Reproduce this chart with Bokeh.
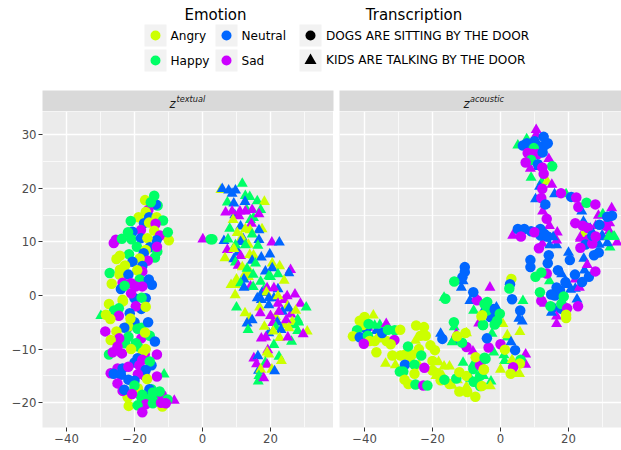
from bokeh.plotting import figure
from bokeh.layouts import column, row
from bokeh.models import FixedTicker, Range1d, ColumnDataSource
from bokeh.core.properties import value
from bokeh.embed import file_html
from bokeh.resources import INLINE

EMOTIONS = {"A": "#CCFF00", "H": "#00FF66", "N": "#0066FF", "S": "#CC00FF"}
emotion_labels = ["Angry", "Happy", "Neutral", "Sad"]
transcription_labels = ["DOGS ARE SITTING BY THE DOOR", "KIDS ARE TALKING BY THE DOOR"]
x_ticks = [-40, -20, 0, 20]
y_ticks = [-20, -10, 0, 10, 20, 30]

textual_dogs_x = [
 -20,-18,-16,-18,-15.5,-22,-20,-17,-15,-19,
 -17,-15,-20,-18,-22,-16,-14,-12,-18,-20,
 -13.2,-13.7,-15.9,-16.9,-15.2,-14.2,-16.7,-18.8,-15.7,-13.5,
 -11.6,-21.1,-17.2,-15.7,-13.8,-14.2,-12.5,-18.1,-20.6,-21.9,
 -9.9,-10.2,-13.5,-25.5,-26.1,-23.7,-20.9,-18.1,-16.2,-15.5,
 -13.3,-13.4,-19.3,-16.7,-17.3,-14,-16.1,-21.6,-24.3,-25.3,
 -18.5,-20.6,-17.7,-22.8,-24.3,-27.3,-17.7,-19.2,-24.4,-21.8,
 -18.5,-15.8,-14.9,-23.5,-17.7,-21,-19.6,-26.7,-24,-22.9,
 -21,-16.7,-17.9,-23.5,-19.6,-16.7,-23.4,-27.5,-24.6,-26,
 -21.4,-24.6,-28.4,-27.1,-21.2,-21.8,-19.1,-23,-28.6,-25.3,
 -16.9,-21.8,-22.8,-24.5,-27,-19.6,-14,-25,-27.5,-26.4,
 -23.7,-21,-16.7,-17.5,-13.4,-19.1,-17.7,-15.5,-18.6,-25,
 -23.5,-21.8,-16.7,-27,-26.1,-24,-19,-13.4,-21.8,-20,
 -16.3,-25,-19,-20,-15.6,-23.5,-23,-20.7,-17.7,-12.6,
 -14.6,-16.7,-14.6,-10.3,-11.8,-21.7,-12.2,-10.8,-19.1,-17.7,
 2.4,2.9]
textual_dogs_y = [
 -5,-6,-5,-8,-7.5,-6,-12.5,-11,-13,-9.5,
 -15,-17.5,-17.5,-19,-19,-19,-19,-18.5,-2.5,-0.5,
 16.8,17,16,17.8,17.4,18.6,15.6,14.6,14.6,14.6,
 14,13.9,13.5,13.6,13.4,12.1,11.2,12.2,11.9,11.8,
 10.3,11.8,10.3,10.4,9.8,10.6,10.5,10.7,10.7,9,
 8.2,9.1,9.1,8.5,7.9,7.1,6.5,7.7,7.4,6.8,
 6.9,6.3,5.5,5.6,4.8,4.2,4.5,4.7,3.9,3.9,
 3,3,2,2.4,1.7,2.3,1.7,2.2,1.2,1.8,
 0.4,-0.5,-0.4,-0.8,-2,-2.1,-1.1,-1.6,-2.4,-2.8,
 -3.3,-3.8,-3.6,-4.4,-4.3,-5.8,-6.2,-6,-6.7,-6.7,
 -6.9,-7.7,-8.9,-8,-8.3,-8.9,-8.6,-9.5,-11,-10.6,
 -10.8,-10,-10,-10.6,-11,-11.7,-12,-12.3,-13,-13.6,
 -13.6,-13.3,-13.9,-14.5,-14.6,-14.8,-14.7,-15.1,-15.7,-15.9,
 -15.6,-16.4,-17.3,-16.8,-17.5,-17.8,-17.6,-18.4,-18.5,-17.9,
 -18.1,-20.3,-20.1,-19.4,-20.7,-20.6,-20,-20.1,-20.5,-21.8,
 10.5,10.5]
textual_dogs_emotion = list(
 "NHNSHNNSNH" "SHHHAHHSNN"
 "HNSAHHAANA" "HHNASASSNH" "AHNSSHHNAN" "HSHANHSHAA"
 "ANNAAHSAAN" "HNNSSSSANH" "SNHASAAAHH" "NSAAAAHNSA"
 "AHHSAHNSHS" "SAAASNSHSS" "NSNSNNSSNN" "ASAHNSNSHH"
 "HSHHAASSHS" "HH")

textual_kids_x = [
 9.5,13,15,12,13.5,10.5,15,12.5,13.5,18,
 20,17.5,21,24,25,23.5,21.5,26,27,24,
 19.5,22,28,16.5,19.5,
 0.1,5.4,5.8,7.7,9.7,8.7,11.7,12.6,13.9,14.6,
 7.3,9.2,16.1,18.2,12.5,17.1,6.8,8.7,11,12.6,
 10.7,16.6,14.1,9,14.4,11.2,8,17.5,16.6,10.2,
 12.6,14,14.6,11.5,16.6,6.3,7.5,20.4,22.6,11.2,
 9.7,12.6,16.3,7.3,9.2,11.2,6.6,13.9,9.2,17.3,
 19.8,9.7,10.5,20.5,22.7,14.6,15.6,11.7,14,14.9,
 13.1,20.5,18.5,25.9,25.4,22.2,24,19.5,10,12.2,
 8.4,9.7,11.2,14.1,14.9,12.2,17.1,19,22.2,21,
 18.8,27.2,24.9,9.6,10,16.1,19.5,22.2,17.3,22.2,
 19.5,28.8,30.5,25.4,27.4,16.8,17,22.5,20,12.5,
 26.4,24.6,14,14.6,13.1,20.7,28.3,18.2,13.4,21.5,
 25.4,23.1,28,30.8,29.6,20.8,17.3,18.6,22.7,26.2,
 25.1,21,19.2,19,15.1,16.3,22.5,23.2,15.9,18.5,
 19,17.1,20.4,21.2,16.6,16.4,18,
 -29.9,-11.3,-8.3]
textual_kids_y = [
 15,16,14.5,10.5,9.5,8,7.5,4,3.5,1,
 3.5,0.5,-0.5,-0.8,-2,-3,-4,-3.5,-5.5,-5.5,
 -7,-5,-4.5,-14,-11,
 10.5,19.7,19.9,19.6,19.6,19,20.9,18.6,18.4,16,
 17.4,17.2,17.6,17.5,17.5,16,15.5,15.7,15.7,15.7,
 14.8,15.2,14.1,14.1,13.4,12.9,12.5,12.4,12.2,11.7,
 12.4,12.2,11.4,10.8,10.4,10.2,10.5,9.9,9.9,10,
 9.4,9.4,9.3,8.5,8.7,7.4,7,7.6,6.8,7.1,
 7.7,6.2,5.6,6,5.5,6.5,6,5.3,4.3,3.9,
 5,5.1,4.5,4.8,4.2,4,2.8,3.6,3,3,
 2,2,2.3,1.7,1.6,1.5,2.6,1.4,1.2,1.4,
 0.6,0.2,-0.1,0.1,-2.2,-0.5,-0.5,-0.1,-0.8,-1.5,
 -1.8,-1.5,-2.2,-2.4,-2.8,-2.2,-3.3,-3,-3.8,-3.3,
 -4.9,-4.6,-4.2,-4.6,-5.2,-5.1,-5,-5.8,-6.4,-5.9,
 -6.1,-6.4,-6.6,-6.7,-7.2,-6.7,-8,-7.8,-7.9,-8.6,
 -7.8,-9.2,-10.2,-10.6,-11.7,-11.3,-11.4,-12.2,-12.8,-12.5,
 -12.9,-13.8,-13.8,-14.1,-15,-16,-15.4,
 -3.8,-14.7,-19.6]
textual_kids_emotion = list(
 "NHHNANAAAH" "HNNSANASHA" "NNHNA"
 "SANNNNHHHS" "HNHANHSSSS" "SSHASNHANA" "AAHANNHSNN"
 "HHHSASAANN" "NHSAANHAAH" "HNNSNHAHAN" "AAHSHNHSNS"
 "ASSAHNNANS" "NSHNAASSSA" "ASANNSHAHH" "ANHASASSAH"
 "SHSASNHASH" "SAANHHS" "HHS")

acoustic_dogs_x = [
 -39.5,-40.5,-37,-33.5,-28,-26,-24,-25,-20,-18.5,
 -20,-15,-13,-6,-10,-8,-6,-3.5,-4,-3,
 -2,-4,16,17.5,18,12,24,26,26,25,
 31,22,10,9,
 -40,-41.4,-42.2,-43.4,-41.4,-38.8,-39,-35.5,-34.8,-33.1,
 -31.1,-29.5,-38.5,-40.2,-31.2,-32.3,-36.5,-24.8,-22.5,-23.5,
 -22,-20.6,-19.3,-27.2,-23.3,-29.4,-31.8,-28.1,-25.3,-22.4,
 -29.6,-25.3,-28.6,-28.2,-27.1,-25,-22.7,-21.5,-17.6,-16.5,
 -12.1,-12.1,-9.8,-7.4,-7.9,-4.9,-4.4,-7.3,-10,-11.3,
 -10.3,-12.8,-17.1,-13.7,-16.2,-6.9,-4.7,-5.6,-5.2,-8,
 -10.5,-10.5,-11.2,-13.6,3.2,2.8,2.6,3.4,5.8,-3.9,
 -1.7,-0.2,-1,-1.7,-5.1,-5.4,0,1.3,4.3,-4.7,
 5.9,5.7,3.7,-4.9,3,-6,-5.5,
 14.2,8.8,8.8,13.9,20.4,13.6,10.3,16.9,12,21.9,27.9,
 23.5,27.5,28.9,27.5,27,11.3,11.8,13.7,11.6,19.1,16.5,14.9,18.6,17.9,
 14.7,22.8,19.6,19.3,19.3,6.6,7.8,12.7,13.9,12.9,10.8,9.8,
 8,9.5,11,9,12.4,7.4,11,15.2,12.3,12.7,12.3,17.8,12,13.2,
 20.8,22.3,22.9,25.3,27.9,31.4,32.8,13.6,29.1,24.2,25.7,5.1,7,6,
 11.7,10,12.9,13.9,27,28]
acoustic_dogs_y = [
 -6.2,-5.5,-8.5,-8.5,-11,-11,-10,-13,-14,-14.5,
 -12.2,-16.5,-15.5,-15,-15,-13.7,-13,-9.7,-8,-4,
 -2.5,-2.8,0,1,-2.5,-1,2.5,3.5,10.5,9.5,
 13,13.5,28.8,12,
 -4,-4.7,-6.5,-7.6,-7.8,-5.3,-7.5,-7.8,-7,-6.4,
 -6.5,-6.4,-8.5,-9,-8.3,-9.1,-10.6,-5.6,-5.9,-7.5,
 -7.5,-9.3,-10.2,-9.5,-11.2,-11.2,-11.2,-12.9,-12.9,-13.5,
 -14.2,-14.6,-14.2,-15.7,-16.5,-16.6,-16.8,-16.8,-15.8,-15.7,
 -14.3,-17.9,-18,-18.9,-16.1,-13.8,-11.8,-11.5,-9.6,-8.8,
 -7,-7.6,-8.1,-5,-0.6,-0.9,-1.6,-3.9,-5.5,0.6,
 5.3,4.4,3.4,2.6,3.1,2.1,1.3,-0.7,-2.8,-1.2,
 -2.6,-3.4,-4.7,-5.4,-5.5,-3.7,-9.1,-10.1,-10.2,-11.6,
 -12,-12.7,-13.4,-13.8,-14.6,-16.9,-16.9,
 7.5,6.6,5.3,6,6.6,4.1,3.5,4.7,4.3,3.9,4.5,
 8.9,7.5,8,10.9,9.7,8.8,11.2,11,0.6,2.5,1.5,0.2,-0.2,-1.6,
 -2,-2,-2.4,-3.6,-4.2,28,28.4,29.6,28.4,28,28,27.5,
 26.6,26.4,26.4,25.3,26.7,24.8,24.5,24.1,23.9,22.7,19.9,19.1,18.2,17,
 18.4,18.3,16.5,17.3,17,14.7,14.9,14.3,13.2,13,12.6,12.4,12.4,11,
 12.4,11.8,11.5,11,11.2,11]
acoustic_dogs_emotion = list(
 "NAAAAAAAAA" "AAHHAHSSNN" "NHNNNSNNSN" "SSNN"
 "AAHANHHANH" "HAASSAAAAA" "AAAHHAANHS" "HAHAAHSHAH"
 "AAAAHAHASH" "AANHHSHAHN" "NNNHANHNNH" "NHHHHASANH"
 "HASAAHA" "NNNNNSHNHNS" "SNNSSSNNHNNNHH" "HSSAANNNNNNH"
 "SSSHNSNHSSSSSN" "NSSHSNNSNSSNNS" "NSNNNS")

acoustic_kids_x = [
 -39,-41,-35.5,-24,-19,-17,-10,-6.5,-5,-2.8,
 -8,-11,-14,-10,-5,-9,-7,18,20,22,
 18,13,16,28,26,32,20,13,11,9,
 -37.4,-33.6,-36.5,-37,-25,-26.5,-33.8,-30.9,-18.2,-15,
 -16.6,-14.2,-12.7,-8.8,-8.1,-14.2,-17.6,-13.6,-13,-16.6,
 -7.9,-6.4,-11,-11.5,-3.1,-1.2,0.7,5.4,6.4,5.7,
 -2.5,2,2,3.1,7.4,-2,1,1.2,3.4,7.4,
 0,4.4,5.6,-3,6.6,14.4,24.5,24.7,25.5,22,
 20.6,23.2,12.3,22.5,16.5,16.5,15,32.2,31.4,34.3,
 33.1,31.9,29.9,23.5,12.3,14.5,16.5,16.5,10.5,10.5,
 7.7,5.1,14.2,8.8,12.2,13.7,11.5,15.1,15.9,19.3,
 10.3,23.9,12.4,32.7,28.8,30.1,32.1,14.4,24.4,3.6,
 16.7,15.5,24.4,23.5,30,31.8,33.5,26.4,29]
acoustic_kids_y = [
 -6,-6,-5.5,-13,-15,-15,-17,-16.5,-15,-16,
 -12.8,-12.5,-8.5,-7,-2.8,-1,-0.5,4,2,3,
 -1,-1.5,-2.5,13,12.5,12,8,17,24,22,
 -3.7,-5.3,-6.6,-5.6,-8.4,-11.8,-12.7,-13,-12.4,-13.2,
 -13.2,-16.8,-15.8,-15.5,-10.4,-8.7,-7.1,-5.9,-7.2,-0.4,
 -2.8,-5.2,2.7,1.5,1.5,-2.2,-5.3,-4.3,-4.8,-6.8,
 -7.1,-7.8,-7.4,-8.7,-11,-10.6,-11.1,-12.2,-12,-12.9,
 -13.8,-14.6,-14.6,-16.9,-1,2.7,6.9,4.7,5.7,1.3,
 1.1,1.5,-0.9,-0.7,-5.3,-3.9,-3.2,9,9.8,9.9,
 11,11.2,11.2,10.9,9.7,9.4,9.4,10.3,30.9,30,
 29.2,28,25.5,23.7,21.2,21.3,20.3,20.7,18.9,18.9,
 18,15.7,15.7,16.3,14.9,15.2,13.5,13,13.8,11.2,
 11.8,10.9,11.5,10.6,10.9,11,11,12.5,9.5]
acoustic_kids_emotion = list(
 "SSHAAAAAHH" "HHNANNSNNS" "SSNSHSNSNH"
 "ASNHAAAAAA" "AAAHSHNHSH" "HSNNSNANNA" "HHANSHHHAS"
 "AAAAHHNNSN" "NSSNSSNHNS" "HHNSSNNSSS" "HHSSHANSNH"
 "NNSSSHSSNS" "SNASNHHNN")


def scatter_panel(frame_w, border_left, left_range, right_range, show_y,
                  kids, dogs):
    p = figure(width=frame_w + border_left, height=339,
               frame_width=frame_w, frame_height=316,
               x_range=Range1d(left_range, right_range), y_range=Range1d(-24.63, 34.33),
               output_backend="svg", toolbar_location=None,
               min_border_left=border_left, min_border_right=0,
               min_border_top=0, min_border_bottom=23,
               background_fill_color="#EBEBEB", border_fill_color="white",
               outline_line_color=None)
    p.xaxis.ticker = FixedTicker(ticks=x_ticks, minor_ticks=[-30, -10, 10, 30])
    p.yaxis.ticker = FixedTicker(ticks=y_ticks, minor_ticks=[-15, -5, 5, 15, 25])
    p.xaxis.major_label_overrides = {t: str(t).replace("-", "\u2212") for t in x_ticks}
    p.yaxis.major_label_overrides = {t: str(t).replace("-", "\u2212") for t in y_ticks}
    for ax in (p.xaxis[0], p.yaxis[0]):
        ax.axis_line_color = None
        ax.major_tick_line_color = "#333333"
        ax.major_tick_line_width = 1
        ax.major_tick_out = 4
        ax.major_tick_in = 0
        ax.minor_tick_line_color = None
        ax.major_label_text_font = "DejaVu Sans"
        ax.major_label_text_font_size = "11.7px"
        ax.major_label_text_color = "#4D4D4D"
        ax.major_label_standoff = 2
    p.yaxis.visible = show_y
    for g in (p.xgrid[0], p.ygrid[0]):
        g.grid_line_color = "white"
        g.grid_line_width = 1.4
        g.minor_grid_line_color = "white"
        g.minor_grid_line_width = 0.7
    for (xs, ys, es, marker, size) in (kids + ("triangle", 11), dogs + ("circle", 10.5)):
        src = ColumnDataSource(dict(x=xs, y=ys, c=[EMOTIONS[e] for e in es]))
        p.scatter("x", "y", source=src, marker=marker, size=size,
                  fill_color="c", line_color="c", line_width=0)
    return p


def header():
    # legend and facet strips, laid out in page pixels
    h = figure(width=621, height=111, x_range=Range1d(0, 621), y_range=Range1d(111, 0),
               output_backend="svg", toolbar_location=None,
               min_border=0, outline_line_color=None, x_axis_type=None, y_axis_type=None,
               background_fill_color="white", border_fill_color="white")
    h.grid.visible = False
    f = value("DejaVu Sans")
    h.quad(left=[144, 215, 144, 215, 299, 299], right=[166, 237, 166, 237, 321, 321],
           top=[24, 24, 49, 49, 24, 49], bottom=[46, 46, 71, 71, 46, 71],
           fill_color="#F2F2F2", line_color=None)
    h.quad(left=[42, 339], right=[333, 621], top=[90, 90], bottom=[111, 111],
           fill_color="#D9D9D9", line_color=None)
    h.scatter([155, 155, 226, 226], [35, 60, 35, 60], size=10, marker="circle",
              fill_color=[EMOTIONS[k] for k in "AHNS"], line_color=None)
    h.scatter([310], [35], size=10, marker="circle", fill_color="black", line_color=None)
    h.scatter([310], [60], size=12, marker="triangle", fill_color="black", line_color=None)
    h.text([215, 413.5], [14, 14], text=["Emotion", "Transcription"], text_font=f,
           text_font_size="15px", text_color="black", text_align="center", text_baseline="middle")
    h.text([170, 170, 241, 241, 325.5, 325.5], [35, 60, 35, 60, 35, 59.5],
           text=emotion_labels + transcription_labels,
           text_font=f, text_font_size="12.1px", text_color="black",
           text_align="left", text_baseline="middle")
    h.text([169, 463], [103, 103], text=["z", "z"], text_font=f, text_font_style="italic",
           text_font_size="11.7px", text_color="#1A1A1A", text_baseline="alphabetic")
    h.text([176, 469.5], [98.5, 98.5], text=["textual", "acoustic"], text_font=f,
           text_font_style="italic", text_font_size="8.2px", text_color="#1A1A1A",
           text_baseline="alphabetic")
    return h


p1 = scatter_panel(291, 42, -47.06, 38.53, True,
                   (textual_kids_x, textual_kids_y, textual_kids_emotion),
                   (textual_dogs_x, textual_dogs_y, textual_dogs_emotion))
p2 = scatter_panel(282, 6, -47.35, 35.59, False,
                   (acoustic_kids_x, acoustic_kids_y, acoustic_kids_emotion),
                   (acoustic_dogs_x, acoustic_dogs_y, acoustic_dogs_emotion))
layout = column(header(), row(p1, p2, spacing=0), spacing=0)
open("out.html", "w").write(file_html(layout, INLINE))
